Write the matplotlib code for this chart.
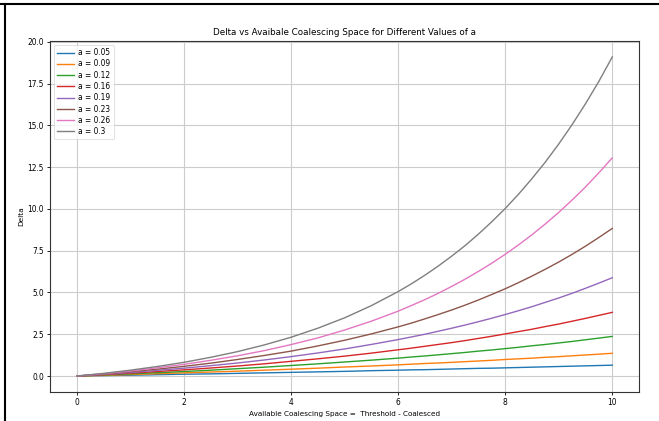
import matplotlib
matplotlib.use("Agg")
import matplotlib.pyplot as plt
from matplotlib.lines import Line2D

x_values = [0, 0.5, 1, 1.5, 2, 2.5, 3, 3.5, 4, 4.5, 5, 5.5, 6,
            6.25, 6.5, 6.75, 7, 7.25, 7.5, 7.75, 8, 8.25, 8.5, 8.75, 9, 9.25, 9.5, 9.75, 10]
a_labels = ["0.05", "0.09", "0.12", "0.16", "0.19", "0.23", "0.26", "0.3"]

delta_005 = [0, 0.03, 0.05, 0.08, 0.11, 0.13, 0.16, 0.19, 0.22, 0.25, 0.28, 0.32, 0.35,
             0.37, 0.38, 0.40, 0.42, 0.44, 0.46, 0.47, 0.49, 0.51, 0.53, 0.55, 0.57, 0.59, 0.61, 0.63, 0.65]
delta_009 = [0, 0.04, 0.09, 0.14, 0.19, 0.24, 0.29, 0.35, 0.41, 0.47, 0.54, 0.60, 0.67,
             0.71, 0.75, 0.78, 0.82, 0.86, 0.90, 0.94, 0.99, 1.03, 1.07, 1.12, 1.16, 1.21, 1.26, 1.31, 1.36]
delta_012 = [0, 0.06, 0.13, 0.20, 0.27, 0.35, 0.44, 0.53, 0.63, 0.73, 0.84, 0.95, 1.07,
             1.14, 1.20, 1.27, 1.34, 1.41, 1.49, 1.56, 1.64, 1.72, 1.81, 1.89, 1.98, 2.07, 2.17, 2.27, 2.37]
delta_016 = [0, 0.08, 0.17, 0.27, 0.37, 0.48, 0.60, 0.73, 0.88, 1.03, 1.19, 1.37, 1.57,
             1.67, 1.78, 1.89, 2.00, 2.12, 2.25, 2.38, 2.52, 2.66, 2.80, 2.96, 3.11, 3.28, 3.45, 3.63, 3.81]
delta_019 = [0, 0.10, 0.21, 0.34, 0.47, 0.62, 0.78, 0.96, 1.16, 1.38, 1.62, 1.89, 2.18,
             2.34, 2.50, 2.68, 2.86, 3.05, 3.25, 3.46, 3.68, 3.91, 4.15, 4.41, 4.67, 4.95, 5.25, 5.56, 5.88]
delta_023 = [0, 0.12, 0.26, 0.41, 0.58, 0.77, 0.99, 1.23, 1.49, 1.80, 2.14, 2.52, 2.94,
             3.17, 3.42, 3.68, 3.95, 4.24, 4.55, 4.88, 5.22, 5.59, 5.98, 6.39, 6.82, 7.28, 7.77, 8.29, 8.83]
delta_026 = [0, 0.14, 0.30, 0.49, 0.70, 0.94, 1.21, 1.52, 1.88, 2.28, 2.75, 3.28, 3.88,
             4.22, 4.57, 4.95, 5.36, 5.79, 6.26, 6.75, 7.28, 7.85, 8.45, 9.10, 9.79, 10.53, 11.31, 12.16, 13.05]
delta_030 = [0, 0.16, 0.35, 0.57, 0.82, 1.12, 1.46, 1.86, 2.32, 2.86, 3.48, 4.21, 5.05,
             5.52, 6.03, 6.58, 7.17, 7.80, 8.49, 9.23, 10.02, 10.88, 11.81, 12.80, 13.88, 15.04, 16.29, 17.63, 19.09]

series = [delta_005, delta_009, delta_012, delta_016, delta_019, delta_023, delta_026, delta_030]

plt.rcParams['font.family'] = ['DejaVu Sans']
fig = plt.figure(figsize=(6.59, 4.21), dpi=100)
ax = fig.add_axes([0.0759, 0.0689, 0.8938, 0.8337])

for lab, ys in zip(a_labels, series):
    ax.plot(x_values, ys, lw=1.0, label=f"a = {lab}")

ax.set_title("Delta vs Avaibale Coalescing Space for Different Values of a", fontsize=6.3, pad=4)
ax.set_xlabel("Available Coalescing Space =  Threshold - Coalesced", fontsize=5.2, labelpad=3)
ax.set_ylabel("Delta", fontsize=5.3, labelpad=2.6)
ax.tick_params(labelsize=5.45, length=2.5, width=0.6, pad=1.8)
ax.grid(True, color="#cccccc", lw=0.8)
for s in ax.spines.values():
    s.set_linewidth(0.8)
    s.set_color("#333333")
leg = ax.legend(loc="upper left", fontsize=5.45, handlelength=2.2, labelspacing=0.3,
                borderpad=0.45, handletextpad=0.6, framealpha=0.8)
leg.get_frame().set_linewidth(0.5)

fig.add_artist(Line2D([0.0, 1.0], [0.9905, 0.9905], transform=fig.transFigure, color="black", lw=1.5))
fig.add_artist(Line2D([0.0076, 0.0076], [0.0, 0.9905], transform=fig.transFigure, color="black", lw=1.5))

fig.savefig("out.png", dpi=100)
